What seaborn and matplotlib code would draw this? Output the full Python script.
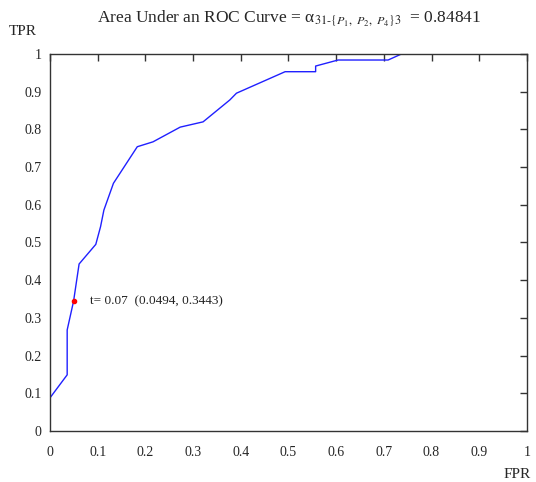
import matplotlib
matplotlib.use("Agg")
import matplotlib.pyplot as plt
import seaborn as sns
import pandas as pd

# ROC curve points
fpr = [0, 0, 0.036, 0.036, 0.0494, 0.061, 0.096, 0.106, 0.113, 0.133, 0.183,
       0.216, 0.273, 0.321, 0.377, 0.391, 0.493, 0.557, 0.557, 0.604, 0.709,
       0.737, 1.0]
tpr = [0, 0.088, 0.149, 0.268, 0.3443, 0.443, 0.495, 0.542, 0.586, 0.657, 0.754,
       0.767, 0.806, 0.82, 0.878, 0.896, 0.953, 0.953, 0.968, 0.984, 0.984,
       1.0, 1.0]

# marked threshold point
thr_label = "t= 0.07  (0.0494, 0.3443)"
thr_x = [0.0494]
thr_y = [0.3443]

tick_vals = [0, 0.1, 0.2, 0.3, 0.4, 0.5, 0.6, 0.7, 0.8, 0.9, 1]
tick_labels = ["0", "0.1", "0.2", "0.3", "0.4", "0.5", "0.6", "0.7", "0.8", "0.9", "1"]

title = (r"Area Under an ROC Curve = α$_{\mathit{31}\text{-}\{\mathit{P_1,\ P_2,\ P_4}\}3}$"
         r"  = 0.84841")

sns.set_style("white")
plt.rcParams["font.family"] = ["Liberation Serif", "DejaVu Serif"]
plt.rcParams["mathtext.fontset"] = "stix"

df = pd.DataFrame({"FPR": fpr, "TPR": tpr})

fig = plt.figure(figsize=(5.36, 4.82), dpi=100)
ax = fig.add_axes([0.0933, 0.1058, 0.8897, 0.7822])

sns.lineplot(data=df, x="FPR", y="TPR", sort=False, estimator=None,
             color="#2020ff", linewidth=1.0, ax=ax)
ax.plot(thr_x, thr_y, "o", color="red", markersize=3)
ax.text(thr_x[0] + 0.035, thr_y[0], thr_label, fontsize=9.5, va="center", ha="left",
        color="#222222")

ax.set_xlim(0, 1)
ax.set_ylim(0, 1)
ax.set_xticks(tick_vals)
ax.set_xticklabels(tick_labels)
ax.set_yticks(tick_vals)
ax.set_yticklabels(tick_labels)
ax.tick_params(direction="in", length=5, width=1, color="#333333",
               top=True, right=True, labelsize=10, pad=6)
ax.tick_params(axis="x", pad=11)
ax.set_xlabel("")
ax.set_ylabel("")
for s in ax.spines.values():
    s.set_color("#333333")
    s.set_linewidth(1.0)

fig.text(0.54, 0.953, title, ha="center", va="baseline", fontsize=12.5)
fig.text(0.042, 0.935, "TPR", ha="center", va="center", fontsize=11)
fig.text(0.965, 0.016, "FPR", ha="center", va="center", fontsize=11)

fig.savefig("out.png", dpi=100)
